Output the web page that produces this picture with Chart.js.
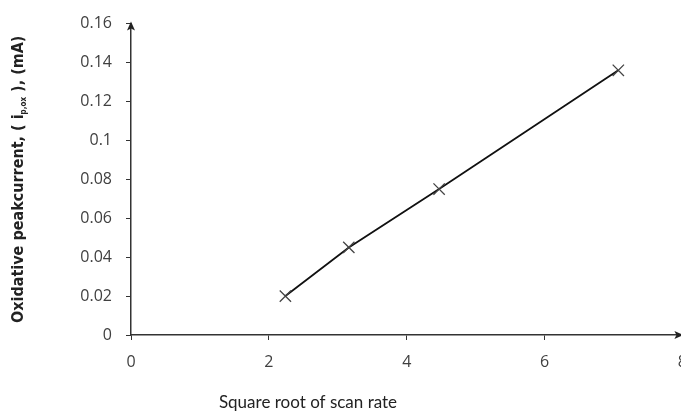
<!DOCTYPE html>
<html>
<head>
<meta charset="utf-8">
<script src="https://cdn.jsdelivr.net/npm/chart.js@4"></script>
<style>
  html, body { margin: 0; padding: 0; background: #fff; overflow: hidden; }
  #wrap { width: 700px; height: 412px; }
</style>
</head>
<body>
<div id="wrap"><canvas id="scanChart"></canvas></div>
<script>
// square root of scan rate vs oxidative peak current (mA)
var sqrtScanRate = [2.24, 3.16, 4.47, 7.07];
var peakCurrent = [0.02, 0.045, 0.075, 0.136];
var xTitle = 'Square root of scan rate';
var yTitleParts = ['Oxidative peakcurrent, ( i', 'p,ox', ' ), (mA)'];

var axisColor = '#333';
var tickFont = { family: 'Open Sans', size: 16 };

// axis arrows + axis titles
var decorations = {
    id: 'decorations',
    afterDraw: function(chart) {
        var ctx = chart.ctx;
        var a = chart.chartArea;
        ctx.save();
        ctx.fillStyle = '#222';
        // arrow on x axis
        ctx.beginPath();
        ctx.moveTo(a.right + 1, a.bottom);
        ctx.lineTo(a.right - 8, a.bottom - 4);
        ctx.lineTo(a.right - 6, a.bottom);
        ctx.lineTo(a.right - 8, a.bottom + 4);
        ctx.closePath();
        ctx.fill();
        // arrow on y axis
        ctx.beginPath();
        ctx.moveTo(a.left, a.top - 2);
        ctx.lineTo(a.left - 4, a.top + 7);
        ctx.lineTo(a.left, a.top + 5);
        ctx.lineTo(a.left + 4, a.top + 7);
        ctx.closePath();
        ctx.fill();

        // x title
        ctx.fillStyle = '#222';
        ctx.font = '17px Lato';
        ctx.textAlign = 'center';
        ctx.textBaseline = 'middle';
        ctx.fillText(xTitle, 308, a.bottom + 68);

        // y title with subscript
        ctx.translate(19, (a.top + a.bottom) / 2);
        ctx.rotate(-Math.PI / 2);
        var big = 'bold 16px "DejaVu Sans Condensed", "DejaVu Sans"';
        var small = 'bold 8px "DejaVu Sans Condensed", "DejaVu Sans"';
        ctx.font = big;
        var w0 = ctx.measureText(yTitleParts[0]).width;
        var w2 = ctx.measureText(yTitleParts[2]).width;
        ctx.font = small;
        var w1 = ctx.measureText(yTitleParts[1]).width;
        var x = -(w0 + w1 + w2) / 2;
        ctx.textAlign = 'left';
        ctx.font = big;
        ctx.fillText(yTitleParts[0], x, 0);
        ctx.font = small;
        ctx.fillText(yTitleParts[1], x + w0, 5);
        ctx.font = big;
        ctx.fillText(yTitleParts[2], x + w0 + w1, 0);
        ctx.restore();
    }
};

var ctx = document.getElementById('scanChart').getContext('2d');
var scanChart = new Chart(ctx, {
    type: 'scatter',
    data: {
        datasets: [{
            data: sqrtScanRate.map(function(v, i) { return { x: v, y: peakCurrent[i] }; }),
            showLine: true,
            borderColor: '#111',
            borderWidth: 1.8,
            pointStyle: 'crossRot',
            pointRadius: 8,
            pointBorderWidth: 1.3,
            pointBorderColor: '#444',
            pointBackgroundColor: '#444',
            pointHoverRadius: 8
        }]
    },
    options: {
        responsive: true,
        maintainAspectRatio: false,
        animation: false,
        layout: { padding: { top: 23, right: 0, left: 0, bottom: 0 } },
        plugins: {
            legend: { display: false },
            tooltip: { enabled: false }
        },
        scales: {
            x: {
                type: 'linear',
                min: 0,
                max: 8,
                afterFit: function(axis) { axis.height = 77; },
                ticks: {
                    stepSize: 2,
                    color: '#404040',
                    font: tickFont,
                    padding: 13
                },
                grid: {
                    drawOnChartArea: false,
                    drawTicks: true,
                    tickLength: 5,
                    color: axisColor
                },
                border: { color: axisColor, width: 1.5 }
            },
            y: {
                min: 0,
                max: 0.16,
                afterFit: function(axis) { axis.width = 131; },
                ticks: {
                    stepSize: 0.02,
                    color: '#404040',
                    font: tickFont,
                    padding: 14,
                    callback: function(v) { return Math.round(v * 100) / 100; }
                },
                grid: {
                    drawOnChartArea: false,
                    drawTicks: true,
                    tickLength: 5,
                    color: axisColor
                },
                border: { color: axisColor, width: 1.5 }
            }
        }
    },
    plugins: [decorations]
});
</script>
</body>
</html>
